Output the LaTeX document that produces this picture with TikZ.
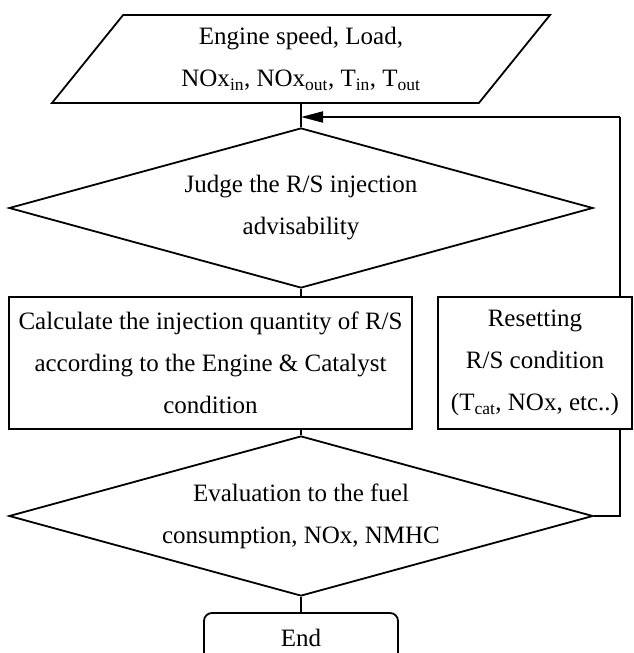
\documentclass[tikz,border=0pt]{standalone}
\usepackage{fontspec}
\setmainfont{Liberation Serif}
\usetikzlibrary{shapes.geometric, arrows.meta}

\begin{document}
\begin{tikzpicture}[
            x=1pt, y=-1pt,
            every node/.style = {font=\fontsize{25}{42}\selectfont, align=center, line width=1.8pt},
            io/.style = {trapezium, draw, trapezium left angle=41.65, trapezium right angle=138.35,
                trapezium stretches body, minimum width=498pt, minimum height=88pt, inner sep=0pt},
            decision/.style = {diamond, draw, aspect=3.65, minimum width=584pt, minimum height=160pt, inner sep=0pt},
            process/.style = {rectangle, draw, minimum height=132pt, inner sep=2pt},
            terminal/.style = {rectangle, draw, rounded corners=8pt, minimum width=194pt, minimum height=50pt},
            line/.style = {line width=1.8pt},
            arr/.style = {line width=1.8pt, -{Triangle[length=22pt, width=11pt]}},
        ]

            \useasboundingbox (0,0) rectangle (633,653);

            % Input
            \node[io] (input) at (301,59) {Engine speed, Load,\\NOx\textsubscript{in}, NOx\textsubscript{out}, T\textsubscript{in}, T\textsubscript{out}};

            % Decisions
            \node[decision] (judge) at (301,208) {Judge the R/S injection\\advisability};
            \node[decision] (eval) at (301,516) {Evaluation to the fuel\\consumption, NOx, NMHC};

            % Processes
            \node[process, minimum width=403pt] (calc) at (210.5,363) {Calculate the injection quantity of R/S\\according to the Engine \& Catalyst\\condition};
            \node[process, minimum width=194pt] (reset) at (535,363) {Resetting\\R/S condition\\(T\textsubscript{cat}, NOx, etc..)};

            % End
            \node[terminal] (end) at (301,638) {End};

            % Loop points
            \coordinate (merge) at (301,117);
            \coordinate (back) at (620,117);

            % Main flow
            \draw[line] (input) -- (judge);
            \draw[line] (judge.south) -- (judge.south |- calc.north);
            \draw[line] (eval.north |- calc.south) -- (eval.north);
            \draw[line] (eval) -- (end);

            % Feedback loop
            \draw[line] (eval.east) -| (back |- reset.south);
            \draw[line] (back |- reset.north) -- (back);
            \draw[arr] (back) -- (merge);

        \end{tikzpicture}
\end{document}
